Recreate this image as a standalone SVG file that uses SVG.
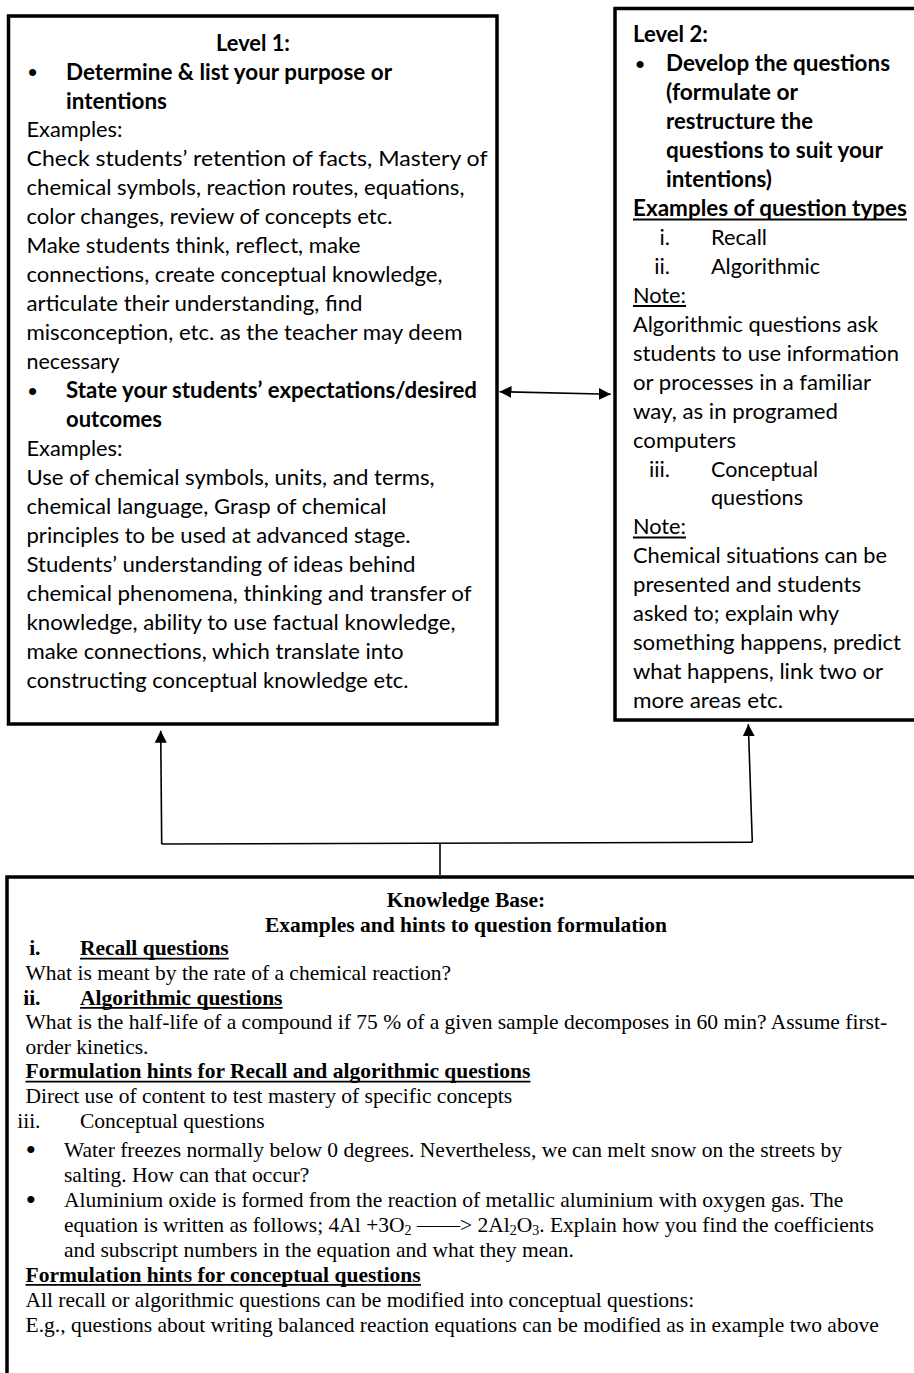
<svg xmlns="http://www.w3.org/2000/svg" width="914" height="1373" viewBox="0 0 914 1373">
<style>
.c{font-family:Lato,"Liberation Sans",sans-serif;font-size:22px;fill:#000}
.b{font-weight:700}
.t{font-family:"Liberation Serif","Times New Roman",serif;font-size:21.5px;fill:#000}
.bul{font-family:"Liberation Sans",Arial,sans-serif;font-size:26px;fill:#000}
.box{fill:#fff;stroke:#000;stroke-width:3.5}
.ul{stroke:#000;stroke-width:1.8}
.conn{stroke:#000;stroke-width:1.6;fill:none}
</style>
<defs>
<marker id="ah" markerUnits="userSpaceOnUse" markerWidth="12" markerHeight="12" refX="12" refY="6" orient="auto-start-reverse" viewBox="0 0 12 12">
<path d="M0,0 L12,6 L0,12 z" fill="#000"/>
</marker>
</defs>

<g id="level1">
<rect class="box" x="8.5" y="16" width="488.5" height="708"/>
<text class="c b" x="253" y="50.5" text-anchor="middle" textLength="74" lengthAdjust="spacingAndGlyphs">Level 1:</text>
<text class="bul" x="32.5" y="81" text-anchor="middle">•</text>
<text class="c b" x="66" y="79.5" textLength="326" lengthAdjust="spacingAndGlyphs">Determine &amp; list your purpose or</text>
<text class="c b" x="66" y="108.5" textLength="101" lengthAdjust="spacingAndGlyphs">intentions</text>
<text class="c" x="26.5" y="137.4" textLength="96" lengthAdjust="spacingAndGlyphs">Examples:</text>
<text class="c" x="26.5" y="166.4" textLength="461" lengthAdjust="spacingAndGlyphs">Check students’ retention of facts, Mastery of</text>
<text class="c" x="26.5" y="195.4" textLength="438" lengthAdjust="spacingAndGlyphs">chemical symbols, reaction routes, equations,</text>
<text class="c" x="26.5" y="224.4" textLength="366" lengthAdjust="spacingAndGlyphs">color changes, review of concepts etc.</text>
<text class="c" x="26.5" y="253.4" textLength="334" lengthAdjust="spacingAndGlyphs">Make students think, reflect, make</text>
<text class="c" x="26.5" y="282.3" textLength="416" lengthAdjust="spacingAndGlyphs">connections, create conceptual knowledge,</text>
<text class="c" x="26.5" y="311.3" textLength="336" lengthAdjust="spacingAndGlyphs">articulate their understanding, find</text>
<text class="c" x="26.5" y="340.3" textLength="436" lengthAdjust="spacingAndGlyphs">misconception, etc. as the teacher may deem</text>
<text class="c" x="26.5" y="369.3" textLength="93" lengthAdjust="spacingAndGlyphs">necessary</text>
<text class="bul" x="32.5" y="399.8" text-anchor="middle">•</text>
<text class="c b" x="66" y="398.3" textLength="411" lengthAdjust="spacingAndGlyphs">State your students’ expectations/desired</text>
<text class="c b" x="66" y="427.2" textLength="96" lengthAdjust="spacingAndGlyphs">outcomes</text>
<text class="c" x="26.5" y="456.2" textLength="96" lengthAdjust="spacingAndGlyphs">Examples:</text>
<text class="c" x="26.5" y="485.2" textLength="408" lengthAdjust="spacingAndGlyphs">Use of chemical symbols, units, and terms,</text>
<text class="c" x="26.5" y="514.2" textLength="360" lengthAdjust="spacingAndGlyphs">chemical language, Grasp of chemical</text>
<text class="c" x="26.5" y="543.2" textLength="384" lengthAdjust="spacingAndGlyphs">principles to be used at advanced stage.</text>
<text class="c" x="26.5" y="572.1" textLength="389" lengthAdjust="spacingAndGlyphs">Students’ understanding of ideas behind</text>
<text class="c" x="26.5" y="601.1" textLength="445" lengthAdjust="spacingAndGlyphs">chemical phenomena, thinking and transfer of</text>
<text class="c" x="26.5" y="630.1" textLength="429" lengthAdjust="spacingAndGlyphs">knowledge, ability to use factual knowledge,</text>
<text class="c" x="26.5" y="659.1" textLength="377" lengthAdjust="spacingAndGlyphs">make connections, which translate into</text>
<text class="c" x="26.5" y="688.1" textLength="382" lengthAdjust="spacingAndGlyphs">constructing conceptual knowledge etc.</text>
</g>

<g id="level2">
<rect class="box" x="615" y="8.5" width="320" height="711.5"/>
<text class="c b" x="633" y="42.4" textLength="75" lengthAdjust="spacingAndGlyphs">Level 2:</text>
<text class="bul" x="640" y="72.8" text-anchor="middle">•</text>
<text class="c b" x="666" y="71.3" textLength="224" lengthAdjust="spacingAndGlyphs">Develop the questions</text>
<text class="c b" x="666" y="100.3" textLength="132" lengthAdjust="spacingAndGlyphs">(formulate or</text>
<text class="c b" x="666" y="129.2" textLength="147" lengthAdjust="spacingAndGlyphs">restructure the</text>
<text class="c b" x="666" y="158.2" textLength="217" lengthAdjust="spacingAndGlyphs">questions to suit your</text>
<text class="c b" x="666" y="187.1" textLength="106" lengthAdjust="spacingAndGlyphs">intentions)</text>
<text class="c b" x="633" y="216" textLength="274" lengthAdjust="spacingAndGlyphs">Examples of question types</text>
<line class="ul" x1="633" y1="219.5" x2="907" y2="219.5"/>
<text class="c" x="670" y="245" text-anchor="end">i.</text>
<text class="c" x="711" y="245" textLength="56" lengthAdjust="spacingAndGlyphs">Recall</text>
<text class="c" x="670" y="273.9" text-anchor="end">ii.</text>
<text class="c" x="711" y="273.9" textLength="109" lengthAdjust="spacingAndGlyphs">Algorithmic</text>
<text class="c" x="633" y="302.9" textLength="53" lengthAdjust="spacingAndGlyphs">Note:</text>
<line class="ul" x1="633" y1="306" x2="686" y2="306"/>
<text class="c" x="633" y="331.8" textLength="245" lengthAdjust="spacingAndGlyphs">Algorithmic questions ask</text>
<text class="c" x="633" y="360.7" textLength="266" lengthAdjust="spacingAndGlyphs">students to use information</text>
<text class="c" x="633" y="389.7" textLength="238" lengthAdjust="spacingAndGlyphs">or processes in a familiar</text>
<text class="c" x="633" y="418.6" textLength="205" lengthAdjust="spacingAndGlyphs">way, as in programed</text>
<text class="c" x="633" y="447.6" textLength="103" lengthAdjust="spacingAndGlyphs">computers</text>
<text class="c" x="670" y="476.5" text-anchor="end">iii.</text>
<text class="c" x="711" y="476.5" textLength="107" lengthAdjust="spacingAndGlyphs">Conceptual</text>
<text class="c" x="711" y="505.4" textLength="92" lengthAdjust="spacingAndGlyphs">questions</text>
<text class="c" x="633" y="534.4" textLength="53" lengthAdjust="spacingAndGlyphs">Note:</text>
<line class="ul" x1="633" y1="537.5" x2="686" y2="537.5"/>
<text class="c" x="633" y="563.3" textLength="254" lengthAdjust="spacingAndGlyphs">Chemical situations can be</text>
<text class="c" x="633" y="592.3" textLength="228" lengthAdjust="spacingAndGlyphs">presented and students</text>
<text class="c" x="633" y="621.2" textLength="206" lengthAdjust="spacingAndGlyphs">asked to; explain why</text>
<text class="c" x="633" y="650.1" textLength="268" lengthAdjust="spacingAndGlyphs">something happens, predict</text>
<text class="c" x="633" y="679.1" textLength="250" lengthAdjust="spacingAndGlyphs">what happens, link two or</text>
<text class="c" x="633" y="708" textLength="150" lengthAdjust="spacingAndGlyphs">more areas etc.</text>
</g>

<g id="knowledge-base">
<rect class="box" x="7" y="877" width="930" height="600"/>
<text class="t b" x="466" y="907" text-anchor="middle">Knowledge Base:</text>
<text class="t b" x="466" y="931.6" text-anchor="middle">Examples and hints to question formulation</text>
<text class="t b" x="40.5" y="955.4" text-anchor="end">i.</text>
<text class="t b" x="80" y="955.4">Recall questions</text>
<line class="ul" x1="80" y1="958.6" x2="228.7" y2="958.6"/>
<text class="t" x="25.5" y="980">What is meant by the rate of a chemical reaction?</text>
<text class="t b" x="40.5" y="1004.6" text-anchor="end">ii.</text>
<text class="t b" x="80" y="1004.6">Algorithmic questions</text>
<line class="ul" x1="80" y1="1007.8" x2="282.5" y2="1007.8"/>
<text class="t" x="25.5" y="1029.2">What is the half-life of a compound if 75 % of a given sample decomposes in 60 min? Assume first-</text>
<text class="t" x="25.5" y="1053.8">order kinetics.</text>
<text class="t b" x="25.5" y="1078.4">Formulation hints for Recall and algorithmic questions</text>
<line class="ul" x1="25.5" y1="1081.6" x2="530.5" y2="1081.6"/>
<text class="t" x="25.5" y="1103">Direct use of content to test mastery of specific concepts</text>
<text class="t" x="40.5" y="1127.8" text-anchor="end">iii.</text>
<text class="t" x="80" y="1127.8">Conceptual questions</text>
<text class="bul" x="30.7" y="1158" text-anchor="middle">•</text>
<text class="t" x="64" y="1156.7">Water freezes normally below 0 degrees. Nevertheless, we can melt snow on the streets by</text>
<text class="t" x="64" y="1181.7">salting. How can that occur?</text>
<text class="bul" x="30.7" y="1208" text-anchor="middle">•</text>
<text class="t" x="64" y="1206.7">Aluminium oxide is formed from the reaction of metallic aluminium with oxygen gas. The</text>
<text class="t" x="64" y="1231.7">equation is written as follows; 4Al +3O<tspan font-size="14" dy="3">2</tspan><tspan dy="-3"> ——&gt; 2Al</tspan><tspan font-size="14" dy="3">2</tspan><tspan dy="-3">O</tspan><tspan font-size="14" dy="3">3</tspan><tspan dy="-3">. Explain how you find the coefficients</tspan></text>
<text class="t" x="64" y="1256.7">and subscript numbers in the equation and what they mean.</text>
<text class="t b" x="25.5" y="1281.7">Formulation hints for conceptual questions</text>
<line class="ul" x1="25.5" y1="1284.9" x2="421" y2="1284.9"/>
<text class="t" x="25.5" y="1306.7">All recall or algorithmic questions can be modified into conceptual questions:</text>
<text class="t" x="25.5" y="1331.7">E.g., questions about writing balanced reaction equations can be modified as in example two above</text>
</g>

<g id="connectors">
<line class="conn" x1="499.5" y1="391.7" x2="610.7" y2="394.3" marker-start="url(#ah)" marker-end="url(#ah)"/>
<path class="conn" d="M161.7,844 L160.7,730.7" marker-end="url(#ah)"/>
<path class="conn" d="M161.7,844 L752.3,842.3"/>
<path class="conn" d="M752.3,842.3 L748.3,724.3" marker-end="url(#ah)"/>
<path class="conn" d="M440,843.2 L440,875"/>
</g>
</svg>
